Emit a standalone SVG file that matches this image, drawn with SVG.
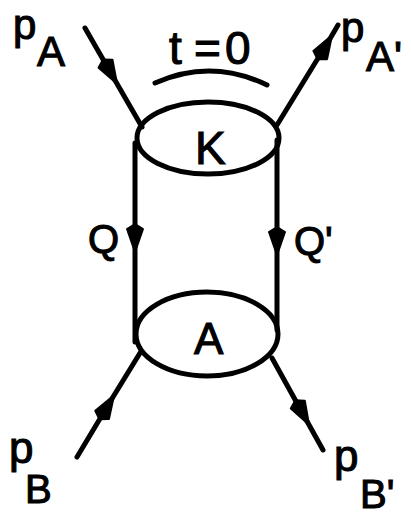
<svg xmlns="http://www.w3.org/2000/svg" width="411" height="517" viewBox="0 0 411 517">
<style>
  .ln{fill:none;stroke:#000;stroke-width:5;stroke-linecap:round;stroke-linejoin:round}
  .ar{marker-mid:url(#ah)}
  .t{font-family:"Liberation Sans","DejaVu Sans",Arial,sans-serif;fill:#000;stroke:#000;stroke-width:1.1}
</style>
<defs>
  <marker id="ah" markerUnits="userSpaceOnUse" markerWidth="40" markerHeight="40" refX="0" refY="0" viewBox="-30 -15 40 30" orient="auto" overflow="visible">
    <path d="M2,0 L-21,-8 L-26,0 L-21,8 Z" fill="#000" stroke="#000" stroke-width="2" stroke-linejoin="round"/>
  </marker>
</defs>
<rect width="411" height="517" fill="#fff"/>
<g id="connectors">
  <path class="ln ar" d="M85,28 L116,82 L142,127"/>
  <path class="ln ar" d="M277,125 L331,37 L338,25"/>
  <path class="ln ar" d="M77,457 L113,397 L140,353"/>
  <path class="ln ar" d="M272,358 L308,423 L323,450"/>
  <path class="ln ar" d="M135,143 L135,250 L135,342"/>
  <path class="ln ar" d="M277,140 L277,253 L277,330"/>
  <path class="ln" d="M155,83 Q211,58 267,85"/>
</g>
<g id="node-K">
  <ellipse class="ln" cx="208" cy="138" rx="71" ry="36" fill="#fff"/>
  <text class="t" x="195" y="164" font-size="46">K</text>
</g>
<g id="node-A">
  <ellipse class="ln" cx="207" cy="334" rx="71" ry="42" fill="#fff"/>
  <text class="t" x="194" y="354" font-size="44">A</text>
</g>
<g id="labels">
  <text class="t" x="169 194 225" y="64" font-size="46">t=0</text>
  <text class="t" x="13" y="39" font-size="42">p</text>
  <text class="t" x="37" y="66" font-size="42">A</text>
  <text class="t" x="341" y="42" font-size="42">p</text>
  <text class="t" x="366" y="71" font-size="42">A'</text>
  <text class="t" x="88" y="253" font-size="40">Q</text>
  <text class="t" x="294" y="255" font-size="40">Q'</text>
  <text class="t" x="9" y="463" font-size="44">p</text>
  <text class="t" x="25" y="503" font-size="40">B</text>
  <text class="t" x="334" y="471" font-size="44">p</text>
  <text class="t" x="360" y="508" font-size="40">B'</text>
</g>
</svg>
